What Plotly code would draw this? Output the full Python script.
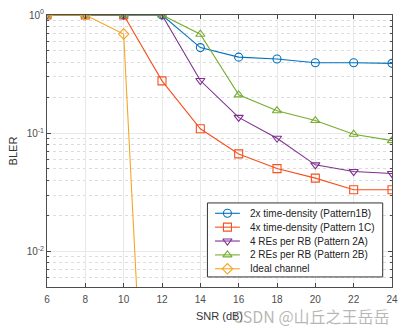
import plotly.graph_objects as go

snr = [6, 8, 10, 12, 14, 16, 18, 20, 22, 24]
bler_1b = [1, 1, 1, 1, 0.53, 0.44, 0.425, 0.395, 0.395, 0.39]
bler_1c = [1, 1, 1, 0.277, 0.109, 0.0668, 0.0502, 0.0417, 0.0332, 0.0332]
bler_2a = [1, 1, 1, 1, 0.279, 0.136, 0.0907, 0.054, 0.0474, 0.0456]
bler_2b = [1, 1, 1, 1, 0.687, 0.211, 0.155, 0.128, 0.098, 0.0866]
snr_ideal = [6, 8, 10, 12]
bler_ideal = [1, 1, 0.69, 3e-7]

names = ["2x time-density (Pattern1B)", "4x time-density (Pattern 1C)",
         "4 REs per RB (Pattern 2A)", "2 REs per RB (Pattern 2B)", "Ideal channel"]
x_ticks = [6, 8, 10, 12, 14, 16, 18, 20, 22, 24]
y_ticks = [0.01, 0.1, 1]
y_ticktext = ["10<sup>-2</sup>", "10<sup>-1</sup>", "10<sup>0</sup>"]

colors = ["#0072BD", "#F4511E", "#7E2F8E", "#77AC30", "#F5A623"]
symbols = ["circle-open", "square-open", "triangle-down-open", "triangle-up-open", "diamond-open"]
xs_all = [snr, snr, snr, snr, snr_ideal]
ys_all = [bler_1b, bler_1c, bler_2a, bler_2b, bler_ideal]

fig = go.Figure()
for xs, ys, col, sym, nm in zip(xs_all, ys_all, colors, symbols, names):
    fig.add_trace(go.Scatter(
        x=xs, y=ys, name=nm, mode="lines+markers",
        line=dict(color=col, width=1.1),
        marker=dict(symbol=sym, size=8, color=col, line=dict(color=col, width=1.1)),
        showlegend=False,
    ))

# --- compact legend drawn on an overlay axis (0..1 on both axes) ---
box_x0, box_x1, box_y0, box_y1 = 0.465, 0.973, 0.037, 0.309
row_y = [0.271, 0.220, 0.169, 0.118, 0.067]
seg_x0, seg_x1, text_x = 0.487, 0.559, 0.582
fig.add_trace(go.Scatter(
    x=[box_x0, box_x1, box_x1, box_x0, box_x0], y=[box_y0, box_y0, box_y1, box_y1, box_y0],
    xaxis="x2", yaxis="y2", mode="lines", fill="toself", fillcolor="white",
    line=dict(color="#333333", width=1), showlegend=False, hoverinfo="skip",
))
annotations = []
for col, sym, nm, ry in zip(colors, symbols, names, row_y):
    fig.add_trace(go.Scatter(
        x=[seg_x0, seg_x1], y=[ry, ry], xaxis="x2", yaxis="y2", mode="lines",
        line=dict(color=col, width=1.1), showlegend=False, hoverinfo="skip",
    ))
    fig.add_trace(go.Scatter(
        x=[(seg_x0 + seg_x1) / 2], y=[ry], xaxis="x2", yaxis="y2", mode="markers",
        marker=dict(symbol=sym, size=8, color=col, line=dict(color=col, width=1.1)),
        showlegend=False, hoverinfo="skip",
    ))
    annotations.append(dict(
        text=nm, xref="x2", yref="y2", x=text_x, y=ry, xanchor="left", yanchor="middle",
        showarrow=False, font=dict(size=10, color="#222222"),
    ))

annotations.append(dict(
    text="CSDN @山丘之王岳岳", xref="paper", yref="paper",
    x=1.0, y=-0.107, xanchor="right", yanchor="middle", showarrow=False,
    font=dict(family="Noto Sans CJK SC", size=16, color="rgba(110,110,110,0.5)"),
))

axis_col = "#4d4d4d"
fig.update_layout(
    width=405, height=328,
    margin=dict(l=47, r=13, t=15, b=41),
    paper_bgcolor="white", plot_bgcolor="white",
    font=dict(family="Liberation Sans, Arial, sans-serif", size=10, color=axis_col),
    showlegend=False,
    annotations=annotations,
    xaxis2=dict(overlaying="x", range=[0, 1], visible=False, fixedrange=True),
    yaxis2=dict(overlaying="y", range=[0, 1], visible=False, fixedrange=True),
)
fig.update_layout(xaxis=dict(
    range=[6, 24], tickvals=x_ticks, ticks="inside", ticklen=4, ticklabelstandoff=3,
    automargin=False,
    showline=True, linecolor=axis_col, linewidth=1, mirror="ticks",
    showgrid=True, gridcolor="#e8e8e8", gridwidth=1, zeroline=False,
    title=dict(text="SNR (dB)", font=dict(size=11, color="#333333"), standoff=8),
    tickfont=dict(size=10, color=axis_col),
))
fig.update_layout(yaxis=dict(
    type="log", range=[-2.301, 0.0], tickvals=y_ticks, ticktext=y_ticktext,
    ticks="inside", ticklen=4, automargin=False,
    showline=True, linecolor=axis_col, linewidth=1, mirror="ticks",
    showgrid=True, gridcolor="#e8e8e8", gridwidth=1, zeroline=False,
    minor=dict(dtick="D1", ticks="inside", ticklen=2, tickcolor=axis_col,
               showgrid=True, gridcolor="#dcdcdc", griddash="dot", gridwidth=1),
    title=dict(text="BLER", font=dict(size=11, color="#333333"), standoff=6),
    tickfont=dict(size=10, color=axis_col),
))
fig.write_html("out.html")
